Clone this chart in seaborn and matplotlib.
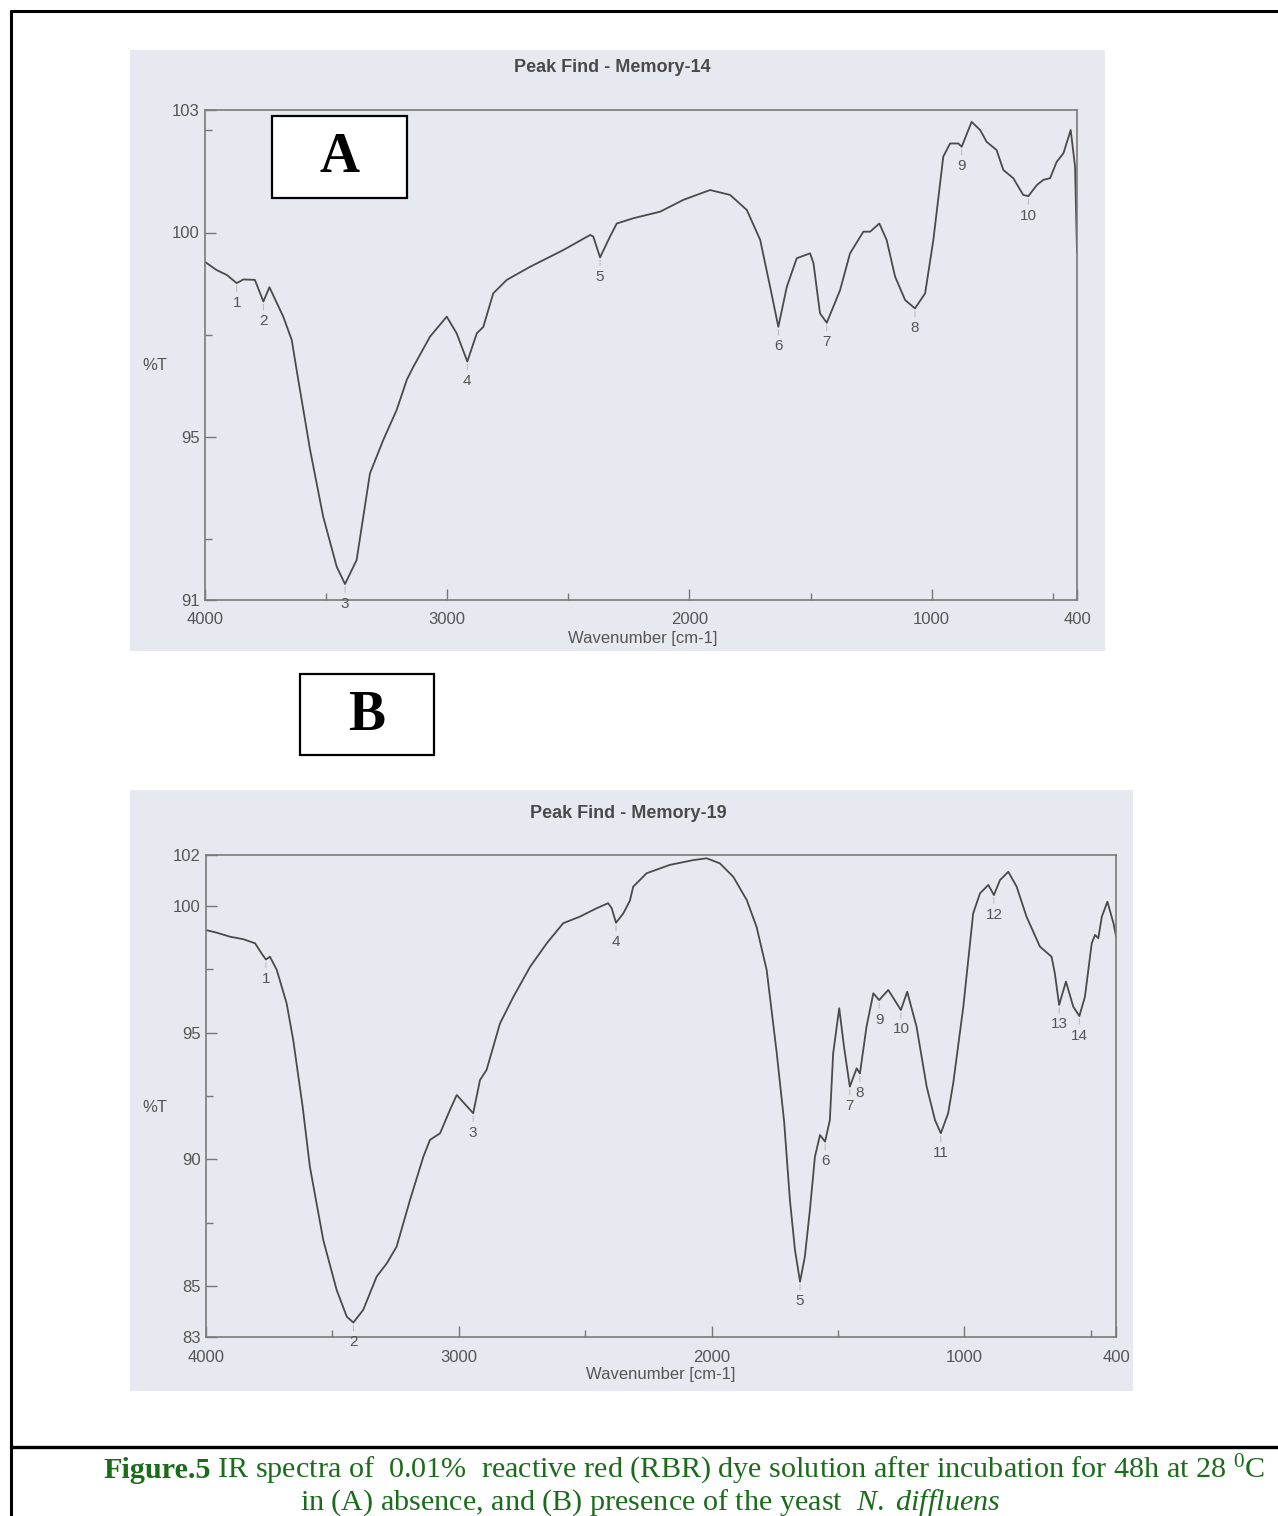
import numpy as np
import pandas as pd
import matplotlib
matplotlib.use("Agg")
import matplotlib.pyplot as plt
import seaborn as sns
from matplotlib.patches import Rectangle
from matplotlib.lines import Line2D
from matplotlib.ticker import FixedLocator

# ---- spectrum A (absence of yeast) ----
wn_a = [4000, 3952, 3910, 3869, 3842, 3794, 3759, 3734, 3677, 3642, 3618, 3566, 3512, 3456,
        3422, 3374, 3319, 3264, 3209, 3167, 3140, 3071, 3002, 2961, 2917, 2878, 2851, 2810,
        2754, 2658, 2521, 2410, 2397, 2369, 2348, 2328, 2300, 2231, 2121, 2025, 1915, 1832,
        1763, 1708, 1667, 1633, 1598, 1557, 1502, 1488, 1461, 1433, 1378, 1337, 1282, 1254,
        1216, 1186, 1151, 1110, 1069, 1027, 993, 952, 924, 890, 876, 835, 800, 773, 732,
        704, 663, 622, 601, 566, 539, 511, 484, 456, 426, 408, 400]
t_a = [99.28, 99.08, 98.96, 98.76, 98.85, 98.84, 98.31, 98.66, 97.94, 97.37, 96.50, 94.67,
       93.04, 91.81, 91.39, 91.98, 94.10, 94.92, 95.65, 96.39, 96.71, 97.45, 97.94, 97.53,
       96.84, 97.53, 97.69, 98.51, 98.84, 99.16, 99.57, 99.94, 99.90, 99.39, 99.65, 99.90,
       100.22, 100.35, 100.51, 100.80, 101.04, 100.92, 100.55, 99.82, 98.67, 97.69, 98.67,
       99.37, 99.49, 99.25, 98.02, 97.79, 98.59, 99.49, 100.02, 100.02, 100.22, 99.82, 98.92,
       98.35, 98.14, 98.51, 99.82, 101.86, 102.18, 102.18, 102.10, 102.71, 102.51, 102.22,
       102.02, 101.53, 101.33, 100.92, 100.89, 101.16, 101.29, 101.33, 101.73, 101.94,
       102.51, 101.61, 99.50]
peak_wn_a = [3869, 3759, 3422, 2917, 2369, 1633, 1433, 1069, 876, 601]
peak_t_a = [98.76, 98.31, 91.39, 96.84, 99.39, 97.69, 97.79, 98.14, 102.10, 100.89]

# ---- spectrum B (presence of N. diffluens) ----
wn_b = [4000, 3958, 3905, 3852, 3806, 3780, 3763, 3747, 3720, 3681, 3655, 3618, 3589, 3536,
        3483, 3443, 3417, 3378, 3325, 3285, 3246, 3193, 3140, 3114, 3074, 3035, 3008, 2943,
        2916, 2890, 2837, 2784, 2718, 2652, 2587, 2521, 2455, 2409, 2395, 2378, 2349, 2323,
        2310, 2257, 2165, 2072, 2019, 1967, 1914, 1861, 1822, 1782, 1742, 1713, 1690, 1670,
        1650, 1631, 1611, 1591, 1571, 1551, 1532, 1519, 1495, 1476, 1453, 1426, 1413, 1387,
        1360, 1337, 1301, 1251, 1226, 1189, 1149, 1116, 1093, 1064, 1044, 1004, 965, 938,
        905, 883, 859, 826, 793, 754, 701, 655, 642, 625, 598, 569, 545, 523, 496, 483,
        470, 456, 434, 410, 400]
t_b = [99.04, 98.94, 98.78, 98.68, 98.52, 98.12, 97.88, 97.99, 97.47, 96.15, 94.71, 92.10,
       89.71, 86.82, 84.85, 83.80, 83.57, 84.07, 85.38, 85.90, 86.56, 88.40, 90.11, 90.77,
       91.03, 91.95, 92.54, 91.82, 93.13, 93.53, 95.36, 96.41, 97.59, 98.52, 99.31, 99.57,
       99.90, 100.10, 99.90, 99.33, 99.70, 100.20, 100.75, 101.28, 101.61, 101.80, 101.87,
       101.67, 101.14, 100.23, 99.17, 97.47, 94.18, 91.50, 88.40, 86.43, 85.18, 86.16, 88.00,
       90.11, 90.96, 90.70, 91.55, 94.18, 95.96, 94.44, 92.87, 93.59, 93.39, 95.23, 96.55,
       96.28, 96.68, 95.89, 96.61, 95.23, 92.87, 91.55, 91.03, 91.82, 93.00, 96.02, 99.70,
       100.49, 100.82, 100.42, 101.01, 101.34, 100.75, 99.57, 98.39, 97.99, 97.34, 96.09,
       97.01, 96.02, 95.65, 96.41, 98.52, 98.85, 98.72, 99.57, 100.16, 99.31, 98.80]
peak_wn_b = [3763, 3417, 2943, 2378, 1650, 1551, 1453, 1413, 1337, 1251, 1093, 883, 625, 545]
peak_t_b = [97.88, 83.57, 91.82, 99.33, 85.18, 90.70, 92.87, 93.39, 96.28, 95.89, 91.03,
            100.42, 96.09, 95.65]

x_major = [4000, 3000, 2000, 1000, 400]
x_minor = [3500, 2500, 1500, 500]
y_major_a = [91, 95, 100, 103]
y_minor_a = [92.5, 97.5, 102.5]
y_major_b = [83, 85, 90, 95, 100, 102]
y_minor_b = [87.5, 92.5, 97.5]

W, H = 1278, 1516
PANEL_BG = "#e7e9f0"
INK = "#555555"
CAPTION = "#1a6b1a"

sns.set_style("ticks")
plt.rcParams["font.family"] = ["Liberation Sans", "DejaVu Sans"]
plt.rcParams["mathtext.fontset"] = "custom"
plt.rcParams["mathtext.rm"] = "Liberation Serif"
plt.rcParams["mathtext.it"] = "Liberation Serif:italic"
plt.rcParams["mathtext.bf"] = "Liberation Serif:bold"


def fig_rect(x0, y0, x1, y1):
    return [x0 / W, 1 - y1 / H, (x1 - x0) / W, (y1 - y0) / H]


def fx(x):
    return x / W


def fy(y):
    return 1 - y / H


fig = plt.figure(figsize=(W / 100, H / 100), dpi=100)
fig.patch.set_facecolor("white")


def draw_panel(bg, axbox, wn, t, pk_wn, pk_t, ylim, ymaj, ymin, title, title_xy, pct_xy, xl_xy):
    fig.add_artist(Rectangle((fx(bg[0]), fy(bg[3])), (bg[2] - bg[0]) / W, (bg[3] - bg[1]) / H,
                             transform=fig.transFigure, facecolor=PANEL_BG, edgecolor="none",
                             zorder=0))
    ax = fig.add_axes(fig_rect(*axbox))
    ax.set_facecolor(PANEL_BG)
    df = pd.DataFrame({"wn": wn, "t": t})
    sns.lineplot(data=df, x="wn", y="t", ax=ax, sort=False, estimator=None,
                 color="#4a4a4a", linewidth=1.3)
    ax.set_xlim(4000, 400)
    ax.set_ylim(*ylim)
    ax.xaxis.set_major_locator(FixedLocator(x_major))
    ax.xaxis.set_minor_locator(FixedLocator(x_minor))
    ax.yaxis.set_major_locator(FixedLocator(ymaj))
    ax.yaxis.set_minor_locator(FixedLocator(ymin))
    ax.set_xticklabels([str(v) for v in x_major])
    ax.set_yticklabels([str(v) for v in ymaj])
    ax.tick_params(which="both", direction="in", colors="#777777", labelcolor=INK,
                   labelsize=12, top=False, right=False)
    ax.tick_params(which="major", length=8, width=1.0)
    ax.tick_params(which="minor", length=5, width=1.0)
    ax.tick_params(axis="x", pad=9)
    ax.tick_params(axis="y", pad=4)
    for s in ax.spines.values():
        s.set_color("#7a7a7a")
        s.set_linewidth(1.2)
    ax.set_xlabel("")
    ax.set_ylabel("")

    for i, (pw, pt) in enumerate(zip(pk_wn, pk_t)):
        ax.annotate("", xy=(pw, pt), xytext=(0, -8), textcoords="offset points",
                    arrowprops=dict(arrowstyle="-", color="#b0b0b0", lw=0.6))
        ax.annotate(str(i + 1), xy=(pw, pt), xytext=(0, -14), textcoords="offset points",
                    ha="center", va="center", fontsize=11, color=INK)

    fig.text(fx(title_xy[0]), fy(title_xy[1]), title, ha="center", va="center",
             fontsize=13, fontweight="bold", color="#4a4a4a")
    fig.text(fx(pct_xy[0]), fy(pct_xy[1]), "%T", ha="center", va="center",
             fontsize=12, color=INK)
    fig.text(fx(xl_xy[0]), fy(xl_xy[1]), "Wavenumber [cm-1]", ha="center", va="center",
             fontsize=12, color=INK)
    return ax


draw_panel((130, 50, 1105, 651), (205, 110, 1077, 600), wn_a, t_a, peak_wn_a, peak_t_a,
           (91, 103), y_major_a, y_minor_a, "Peak Find - Memory-14", (612, 68), (155, 365),
           (643, 639))
draw_panel((130, 790, 1133, 1391), (206, 855, 1116, 1337), wn_b, t_b, peak_wn_b, peak_t_b,
           (83, 102), y_major_b, y_minor_b, "Peak Find - Memory-19", (628, 813), (155, 1107),
           (661, 1374))

# letter boxes
for (x0, y0, x1, y1), letter in [((272, 116, 407, 198), "A"), ((300, 674, 434, 755), "B")]:
    fig.add_artist(Rectangle((fx(x0), fy(y1)), (x1 - x0) / W, (y1 - y0) / H,
                             transform=fig.transFigure, facecolor="white",
                             edgecolor="black", linewidth=1.6, zorder=5))
    fig.text(fx((x0 + x1) / 2), fy((y0 + y1) / 2 + 1), letter, ha="center", va="center",
             fontsize=40, fontweight="bold", family="Liberation Serif", color="black",
             zorder=6)

# page frame and caption separator
fig.add_artist(Line2D([fx(11), fx(1278)], [fy(11), fy(11)], color="black", lw=2.2,
                      transform=fig.transFigure))
fig.add_artist(Line2D([fx(11), fx(11)], [fy(11), fy(1516)], color="black", lw=2.2,
                      transform=fig.transFigure))
fig.add_artist(Line2D([fx(11), fx(1278)], [fy(1447), fy(1447)], color="black", lw=2.4,
                      transform=fig.transFigure))

# caption
renderer = fig.canvas.get_renderer()
cap_size = 21.7
t1 = fig.text(fx(103), fy(1478), "Figure.5", ha="left", va="baseline", fontsize=cap_size,
              fontweight="bold", family="Liberation Serif", color=CAPTION)
bb = t1.get_window_extent(renderer)
fig.text(bb.x1 / W, fy(1478),
         r" IR spectra of  0.01%  reactive red (RBR) dye solution after incubation for 48h at 28 $^{0}$C",
         ha="left", va="baseline", fontsize=cap_size, family="Liberation Serif", color=CAPTION)
fig.text(fx(650), fy(1510),
         r"in (A) absence, and (B) presence of the yeast  $\mathit{N.\ diffluens}$",
         ha="center", va="baseline", fontsize=cap_size, family="Liberation Serif",
         color=CAPTION)

fig.savefig("out.png", dpi=100, facecolor="white")
